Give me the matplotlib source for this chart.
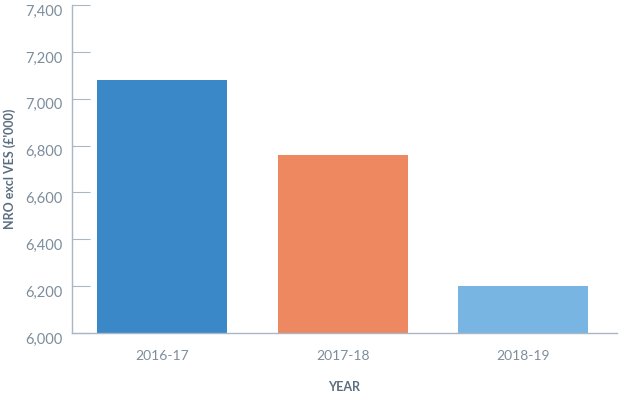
import matplotlib
matplotlib.use("Agg")
import matplotlib.pyplot as plt
import matplotlib.transforms as mtransforms

# Data
years = ["2016-17", "2017-18", "2018-19"]
values = [7080, 6760, 6200]
colors = ["#3b88c9", "#ee8860", "#79b5e3"]
yticks = [6000, 6200, 6400, 6600, 6800, 7000, 7200, 7400]

plt.rcParams['font.family'] = ['Lato', 'DejaVu Sans']

fig = plt.figure(figsize=(6.2, 3.94), dpi=100)
ax = fig.add_axes([0.116, 0.155, 0.879, 0.832])

x = range(len(years))
ax.bar(x, values, width=0.72, color=colors, bottom=0)

ax.set_ylim(6000, 7400)
ax.set_xlim(-0.5, 2.52)
ax.set_yticks(yticks)
ax.set_yticklabels([f"{v:,}" for v in yticks])
ax.set_xticks(list(x))
ax.set_xticklabels(years)

axis_col = "#a9b7c4"
text_col = "#7d8d9c"
for s in ["top", "right"]:
    ax.spines[s].set_visible(False)
for s in ["left", "bottom"]:
    ax.spines[s].set_color(axis_col)
    ax.spines[s].set_linewidth(1.0)

ax.tick_params(axis="y", direction="in", length=13, color=axis_col,
               labelcolor=text_col, labelsize=10.5, pad=7)
ax.tick_params(axis="x", length=0, labelcolor=text_col, labelsize=10, pad=12)

# labels sit slightly below their ticks in the original
offset = mtransforms.ScaledTranslation(0, -5 / 100, fig.dpi_scale_trans)
for lab in ax.get_yticklabels():
    lab.set_transform(lab.get_transform() + offset)

ax.set_ylabel("NRO excl VES (£'000)", color="#5a6e80", fontsize=9,
              fontweight="bold")
ax.yaxis.set_label_coords(-0.102, 0.5)
ax.set_xlabel("YEAR", color="#5a6e80", fontsize=9, fontweight="bold",
              labelpad=14)

fig.savefig("out.png", dpi=100)
